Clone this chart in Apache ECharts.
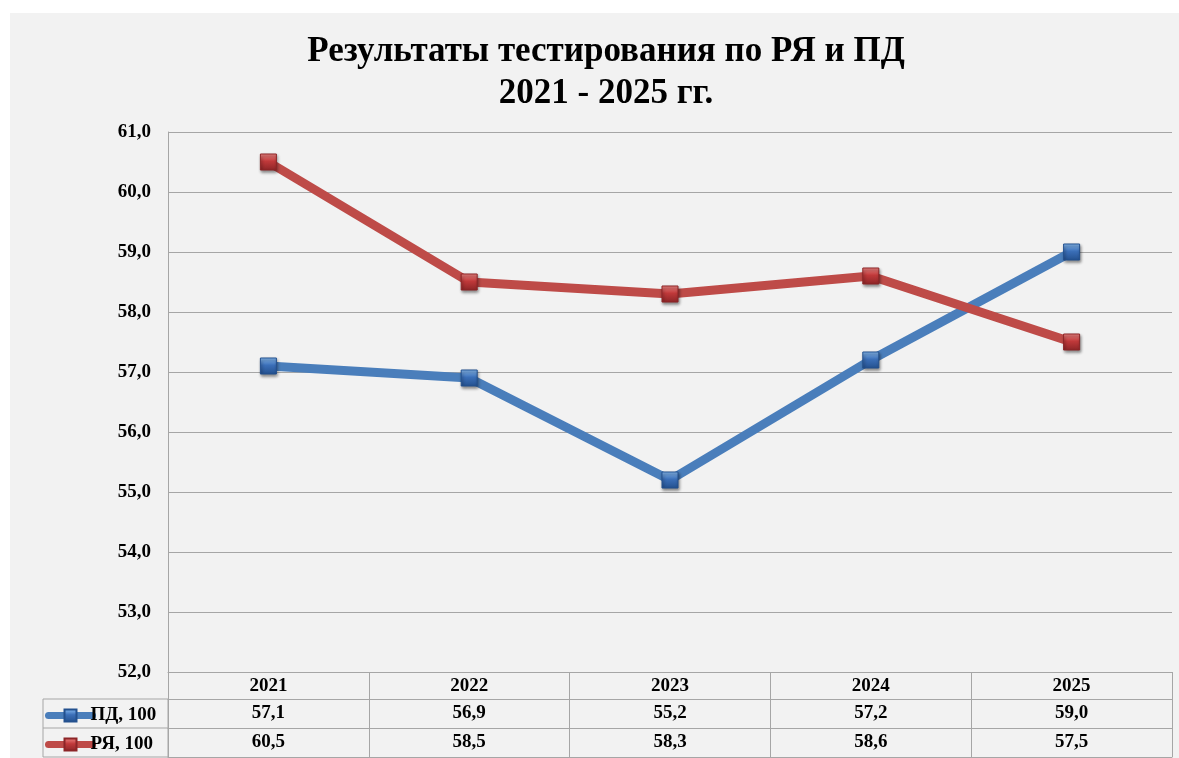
<!DOCTYPE html>
<html>
<head>
<meta charset="utf-8">
<script src="https://cdn.jsdelivr.net/npm/echarts@6/dist/echarts.min.js"></script>
<style>
html,body{margin:0;padding:0;background:#ffffff;}
#chart{width:1179px;height:758px;}
</style>
</head>
<body>
<div id="chart"></div>
<script>
const titleLines = ['Результаты тестирования по РЯ и ПД', '2021 - 2025 гг.'];
const categories = ['2021', '2022', '2023', '2024', '2025'];
const seriesNames = ['ПД, 100', 'РЯ, 100'];
const pdValues = [57.1, 56.9, 55.2, 57.2, 59.0];
const ryValues = [60.5, 58.5, 58.3, 58.6, 57.5];
const yMin = 52, yMax = 61, yStep = 1;

const FONT = '"Liberation Serif", "Times New Roman", serif';
const GRID_COLOR = '#a6a6a6';
const FS = 19;
const fmt = v => Number(v).toFixed(1).replace('.', ',');

function marker(base, light, dark) {
  return {
    color: {
      type: 'linear', x: 0, y: 0, x2: 0, y2: 1,
      colorStops: [
        { offset: 0, color: light },
        { offset: 0.45, color: base },
        { offset: 1, color: dark }
      ]
    },
    borderColor: dark,
    borderWidth: 1,
    shadowColor: 'rgba(0,0,0,0.45)',
    shadowBlur: 3,
    shadowOffsetX: 1,
    shadowOffsetY: 2
  };
}

const chart = echarts.init(document.getElementById('chart'), null, { renderer: 'canvas' });

const tableAxis = (offset, labels, show) => ({
  type: 'category',
  data: categories,
  position: 'bottom',
  offset: offset,
  boundaryGap: true,
  axisLine: { show: true, lineStyle: { color: GRID_COLOR, width: 1 } },
  axisTick: { show: false },
  axisLabel: show ? {
    show: true, margin: 5,
    fontFamily: FONT, fontSize: FS, fontWeight: 'bold', color: '#000',
    formatter: (v, i) => labels[i]
  } : { show: false },
  splitLine: { show: false }
});

const legendItem = (name, top) => ({
  orient: 'horizontal',
  left: 40,
  top: top,
  itemWidth: 44,
  itemHeight: 15,
  itemGap: 0,
  data: [name],
  selectedMode: false,
  lineStyle: { width: 7, cap: 'round' },
  textStyle: { fontFamily: FONT, fontSize: FS, fontWeight: 'bold', color: '#000', padding: [0, 0, 0, -7] }
});

chart.setOption({
  backgroundColor: '#ffffff',
  animation: false,
  graphic: [
    { type: 'rect', z: -10, shape: { x: 10, y: 13, width: 1169, height: 745 }, style: { fill: '#f2f2f2' } },
    { type: 'rect', z: 5, shape: { x: 43, y: 699, width: 125, height: 58 }, style: { fill: 'none', stroke: GRID_COLOR, lineWidth: 1 } },
    { type: 'line', z: 5, shape: { x1: 43, y1: 728, x2: 168, y2: 728 }, style: { stroke: GRID_COLOR, lineWidth: 1 } }
  ],
  title: {
    text: titleLines.join('\n'),
    left: 601,
    top: 26,
    textAlign: 'center',
    textStyle: { fontFamily: FONT, fontSize: 35, fontWeight: 'bold', color: '#000', lineHeight: 42 }
  },
  legend: [
    legendItem(seriesNames[0], 701),
    legendItem(seriesNames[1], 730)
  ],
  grid: { left: 168, right: 7, top: 132, bottom: 86, containLabel: false },
  xAxis: [
    {
      type: 'category',
      data: categories,
      position: 'bottom',
      boundaryGap: true,
      axisLine: { show: true, lineStyle: { color: GRID_COLOR, width: 1 } },
      axisTick: { show: true, inside: false, length: 85, alignWithLabel: false, lineStyle: { color: GRID_COLOR, width: 1 } },
      axisLabel: { margin: 5, fontFamily: FONT, fontSize: FS, fontWeight: 'bold', color: '#000' },
      splitLine: { show: false }
    },
    tableAxis(27, pdValues.map(fmt), true),
    tableAxis(56, ryValues.map(fmt), true),
    tableAxis(85, [], false)
  ],
  yAxis: {
    type: 'value',
    min: yMin, max: yMax, interval: yStep,
    axisLine: { show: true, lineStyle: { color: GRID_COLOR, width: 1 } },
    axisTick: { show: false },
    axisLabel: { margin: 17, fontFamily: FONT, fontSize: FS, fontWeight: 'bold', color: '#000', formatter: fmt },
    splitLine: { show: true, lineStyle: { color: GRID_COLOR, width: 1 } }
  },
  series: [
    {
      name: seriesNames[0],
      type: 'line',
      xAxisIndex: 0,
      data: pdValues,
      symbol: 'rect',
      symbolSize: 16,
      color: '#4a7ebb',
      lineStyle: { width: 9, color: '#4a7ebb' },
      itemStyle: marker('#3b6fb8', '#8cc0f5', '#23508e'),
      z: 2
    },
    {
      name: seriesNames[1],
      type: 'line',
      xAxisIndex: 0,
      data: ryValues,
      symbol: 'rect',
      symbolSize: 16,
      color: '#be4b48',
      lineStyle: { width: 9, color: '#be4b48' },
      itemStyle: marker('#c0393a', '#f28a88', '#8c2527'),
      z: 3
    }
  ]
});
</script>
</body>
</html>
